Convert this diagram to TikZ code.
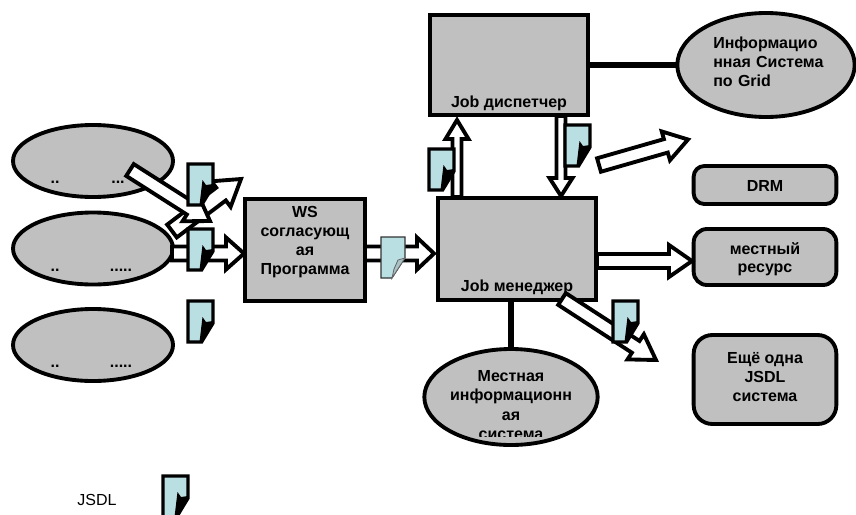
\documentclass[tikz,border=0pt]{standalone}
\usepackage{fontspec}
\setmainfont{Liberation Sans}
\usetikzlibrary{calc,shapes.geometric}
\definecolor{boxgray}{HTML}{C0C0C0}
\definecolor{docblue}{HTML}{BADFE3}
\tikzset{
  x=0.75pt,y=-0.75pt,
  shapeline/.style={draw=black,line width=2.9pt,fill=boxgray,inner sep=0pt,outer sep=0pt},
  oval/.style={shapeline,ellipse},
  plainbox/.style={shapeline,rectangle},
  softbox/.style={shapeline,rectangle,rounded corners=#1},
  lab/.style={font=\bfseries\fontsize{12pt}{14.4pt}\selectfont,text=black,inner sep=0pt,align=center},
  frag/.style={font=\bfseries\fontsize{12pt}{12pt}\selectfont,text=black,inner sep=0pt},
  bar/.style={draw=black,line width=2.9pt,fill=white,line join=miter,miter limit=6},
  link/.style={draw=black,line width=4pt},
  docthick/.pic={
    \draw[draw=black,line width=2.6pt,fill=docblue,line join=miter] (0,0)--(25,0)--(25,22)--(13.5,41)--(0,41)--cycle;
    \fill[black] (14.5,16)--(18,21)--(25,20)--(24,25)--(13.5,41)--(11.5,41)--cycle;
  },
  docthin/.pic={
    \draw[draw=black!80,line width=0.8pt,fill=docblue] (0,0)--(24,0)--(24,21)--(11,41)--(0,41)--cycle;
    \draw[draw=black!60,line width=0.6pt,fill=docblue!70!gray] (24,21)--(17,23)--(13,32)--(11,41)--cycle;
  }
}
% block arrow between two named coordinates: shaft half-width, head half-width, head length (px)
\newcommand{\blockarrow}[5]{%
  \draw[bar] let \p1=(#1),\p2=(#2),
      \n1={veclen(\x2-\x1,\y2-\y1)},\n2={atan2(\y2-\y1,\x2-\x1)},
      \n3={\n1-#5*0.75pt} in
    ($(#1)+(\n2+90:#3*0.75pt)$) --
    ($(#1)+(\n2:\n3)+(\n2+90:#3*0.75pt)$) --
    ($(#1)+(\n2:\n3)+(\n2+90:#4*0.75pt)$) --
    (#2) --
    ($(#1)+(\n2:\n3)+(\n2-90:#4*0.75pt)$) --
    ($(#1)+(\n2:\n3)+(\n2-90:#3*0.75pt)$) --
    ($(#1)+(\n2-90:#3*0.75pt)$) -- cycle;}
\begin{document}
\begin{tikzpicture}
\useasboundingbox (0,0) rectangle (856,514);
\clip (0,0) rectangle (856,514);
% left ellipses
\node[oval,minimum width=120pt,minimum height=54pt] (e1) at (93,161) {};
\node[oval,minimum width=120pt,minimum height=54pt] (e2) at (93,248.5) {};
\node[oval,minimum width=120pt,minimum height=54pt] (e3) at (93,345) {};
\node[frag] (f1a) at (55,182) {..};
\node[frag] (f1b) at (118,182) {...};
\node[frag] (f2a) at (55,270) {..};
\node[frag] (f2b) at (121,270) {.....};
\node[frag] (f3a) at (55,366) {..};
\node[frag] (f3b) at (121,366) {.....};
% boxes
\node[plainbox,minimum width=90pt,minimum height=77pt] (ws) at (305,250) {};
\node[plainbox,minimum width=118.5pt,minimum height=75pt] (disp) at (509,65) {};
\node[plainbox,minimum width=118.5pt,minimum height=76.5pt] (mgr) at (517,249) {};
\node[softbox=8pt,minimum width=107pt,minimum height=28.5pt] (drm) at (765,185) {};
\node[softbox=10pt,minimum width=107pt,minimum height=42pt] (res) at (765,257) {};
\node[softbox=14pt,minimum width=107pt,minimum height=66.75pt] (other) at (765,379.5) {};
\node[oval,minimum width=133pt,minimum height=78pt] (info) at (766,65) {};
\node[oval,minimum width=130pt,minimum height=72pt] (local) at (511,397) {};
% connectors
\draw[link,line width=4.5pt] (disp.east) -- (info.west);
\draw[link] (mgr.south -| local.north) -- (local.north);
\node[lab] (t2) at (517,287) {Job менеджер};
% block arrows
\coordinate (a1s) at (172,231); \coordinate (a1e) at (241,179);
\coordinate (a2s) at (130,170); \coordinate (a2e) at (210,221);
\coordinate (a3s) at (172,253.5); \coordinate (a3e) at (244,253.5);
\coordinate (a4s) at (365,253.5); \coordinate (a4e) at (434,253.5);
\coordinate (a5s) at (457,197); \coordinate (a5e) at (457,120);
\coordinate (a6s) at (561,116); \coordinate (a6e) at (561,196);
\coordinate (a7s) at (599,165); \coordinate (a7e) at (688,139.5);
\coordinate (a8s) at (597,261); \coordinate (a8e) at (692,261);
\coordinate (a9s) at (562,299); \coordinate (a9e) at (656,360);
\blockarrow{a1s}{a1e}{8}{16}{25}
\blockarrow{a2s}{a2e}{7}{15}{23}
\blockarrow{a3s}{a3e}{7}{16}{18}
\blockarrow{a4s}{a4e}{7}{16}{17}
\blockarrow{a5s}{a5e}{4.5}{11.5}{19}
\blockarrow{a6s}{a6e}{4.5}{11.5}{18}
\blockarrow{a7s}{a7e}{7}{15}{23}
\blockarrow{a8s}{a8e}{7}{16}{23}
\blockarrow{a9s}{a9e}{7}{15}{24}
% documents
\pic at (188,164) {docthick};
\pic at (188,229) {docthick};
\pic at (188,301) {docthick};
\pic at (429,149) {docthick};
\pic at (565,125) {docthick};
\pic at (613,301) {docthick};
\pic at (163,476) {docthick};
\pic at (381,237) {docthin};
% labels
\node[lab] (t1) at (509,103) {Job диспетчер};
\node[lab,text width=100pt,align=left,anchor=west] (t3) at (713,62) {Информацио\\нная Система\\по Grid};
\node[lab] (t4) at (305,242) {WS\\согласующ\\ая\\Программа};
\node[lab] (t5) at (765,186) {DRM};
\node[lab,font=\bfseries\fontsize{12pt}{13.5pt}\selectfont] (t6) at (765,259) {местный\\ресурс};
\node[lab] (t7) at (765,377) {Ещё одна\\JSDL\\система};
\begin{scope}
\clip (400,340) rectangle (620,436);
\node[lab] (t8) at (511,405) {Местная\\информационн\\ая\\система};
\end{scope}
\node[font=\fontsize{12pt}{14pt}\selectfont,inner sep=0pt] (t9) at (97,500) {JSDL};
\end{tikzpicture}
\end{document}
